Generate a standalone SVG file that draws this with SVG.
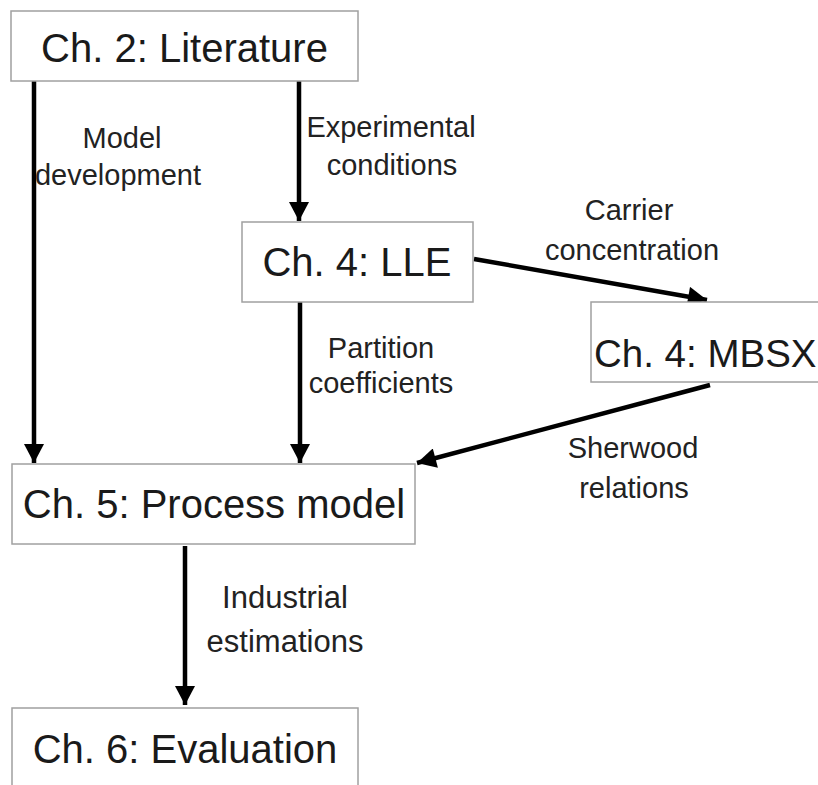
<svg xmlns="http://www.w3.org/2000/svg" width="818" height="785" viewBox="0 0 818 785">
<style>
.box{fill:#fff;stroke:#a0a0a0;stroke-width:1.5}
.title{font-family:"Liberation Sans",Arial,sans-serif;font-size:40px;fill:#1a1a1a}
.lbl{font-family:"Liberation Sans",Arial,sans-serif;font-size:29px;fill:#222;text-anchor:middle}
.edge{stroke:#000;stroke-width:4.5;fill:none;marker-end:url(#ah)}
</style>
<defs>
<marker id="ah" markerUnits="userSpaceOnUse" markerWidth="20" markerHeight="20" viewBox="0 0 19 20" refX="19" refY="10" orient="auto">
<path d="M0,0 L19,10 L0,20 Z" fill="#000"/>
</marker>
</defs>
<rect width="818" height="785" fill="#fff"/>
<g id="connectors">
<line class="edge" x1="34" y1="81" x2="34" y2="463"/>
<line class="edge" x1="299" y1="81" x2="299" y2="221"/>
<line class="edge" x1="300" y1="302" x2="300" y2="463"/>
<line class="edge" x1="474" y1="259" x2="707" y2="300"/>
<line class="edge" x1="710" y1="385" x2="417" y2="463"/>
<line class="edge" x1="185" y1="546" x2="185" y2="705"/>
</g>
<g id="labels">
<text class="lbl" x="122" y="148">Model</text>
<text class="lbl" x="118" y="185">development</text>
<text class="lbl" x="391" y="137">Experimental</text>
<text class="lbl" x="392" y="175">conditions</text>
<text class="lbl" x="629" y="220">Carrier</text>
<text class="lbl" x="632" y="260">concentration</text>
<text class="lbl" x="381" y="358">Partition</text>
<text class="lbl" x="381" y="393">coefficients</text>
<text class="lbl" x="633" y="458">Sherwood</text>
<text class="lbl" x="634" y="498">relations</text>
<text class="lbl" x="285" y="608" style="font-size:31px">Industrial</text>
<text class="lbl" x="285" y="652" style="font-size:31px">estimations</text>
</g>
<g id="n-literature">
<rect class="box" x="11" y="11" width="347" height="70"/>
<text class="title" x="184.5" y="62" text-anchor="middle">Ch. 2: Literature</text>
</g>
<g id="n-lle">
<rect class="box" x="242" y="222" width="231" height="80"/>
<text class="title" x="357" y="276" text-anchor="middle">Ch. 4: LLE</text>
</g>
<g id="n-mbsx">
<rect class="box" x="591" y="302" width="240" height="80"/>
<text class="title" x="594" y="367" style="font-size:38.5px">Ch. 4: MBSX</text>
</g>
<g id="n-process">
<rect class="box" x="12" y="464" width="403" height="80"/>
<text class="title" x="214" y="518" text-anchor="middle">Ch. 5: Process model</text>
</g>
<g id="n-evaluation">
<rect class="box" x="12" y="708" width="346" height="85"/>
<text class="title" x="185" y="763" text-anchor="middle">Ch. 6: Evaluation</text>
</g>
</svg>
